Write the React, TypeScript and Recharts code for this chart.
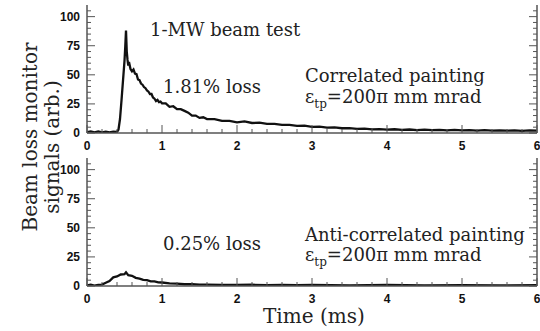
import React from 'react'
import { LineChart, Line, XAxis, YAxis } from 'recharts'

// measured beam loss monitor traces (arb. units) vs time (ms)
const timeCorrelated = [
  0, 0.05, 0.1, 0.15, 0.2, 0.25, 0.3, 0.35, 0.4, 0.42, 0.44, 0.46, 0.48, 0.5, 0.51, 0.52, 0.525, 0.53,
  0.54, 0.55, 0.56, 0.58, 0.6, 0.62, 0.64, 0.66, 0.68, 0.7, 0.72, 0.74, 0.76, 0.78, 0.8, 0.82, 0.84,
  0.86, 0.88, 0.9, 0.92, 0.94, 0.96, 0.98, 1.0, 1.05, 1.1, 1.15, 1.2, 1.25, 1.3, 1.35, 1.4, 1.45, 1.5,
  1.55, 1.6, 1.7, 1.8, 1.9, 2.0, 2.1, 2.2, 2.3, 2.4, 2.5, 2.6, 2.7, 2.8, 2.9, 3.0, 3.1, 3.2, 3.3, 3.4,
  3.5, 3.6, 3.7, 3.8, 3.9, 4.0, 4.1, 4.2, 4.3, 4.4, 4.5, 4.6, 4.7, 4.8, 4.9, 5.0, 5.1, 5.2, 5.3, 5.4,
  5.5, 5.6, 5.7, 5.8, 5.9, 6.0,
]
const signalCorrelated = [
  0.8, 1.4, 0.5, 1.3, 0.6, 1.2, 0.5, 1.1, 0.9, 3, 12, 28, 45, 62, 74, 88, 79, 70,
  63, 58, 61, 55, 53, 54.5, 51, 50.5, 46, 45.5, 42.5, 41.5, 39.5, 38.5, 36.5, 35.5, 33.5,
  33.5, 30.5, 29.5, 27.5, 28.5, 26.5, 27, 25.5, 25.5, 22.5, 23, 20.5, 20.5, 19, 17.5, 15, 15, 13,
  13.5, 12, 12, 10.5, 10.4, 9.2, 10, 8.6, 8.9, 7.9, 7.8, 7, 7, 6.1, 6.3, 5.3, 5.4, 4.7, 4.8, 4.1,
  4.2, 3.6, 3.8, 3.2, 3.4, 2.9, 3.2, 2.7, 3, 2.5, 2.9, 2.4, 2.7, 2.3, 2.6, 2.2, 2.5, 2.1, 2.4, 2.1,
  2.3, 2.0, 2.3, 1.9, 2.2, 2.0,
]

const timeAnti = [
  0, 0.05, 0.1, 0.15, 0.2, 0.25, 0.3, 0.35, 0.4, 0.45, 0.5, 0.52, 0.55, 0.6, 0.65, 0.7, 0.75, 0.8,
  0.85, 0.9, 0.95, 1.0, 1.1, 1.2, 1.3, 1.4, 1.5, 1.6, 1.8, 2.0, 2.2, 2.4, 2.6, 2.8, 3.0, 3.5, 4.0,
  4.5, 5.0, 5.5, 6.0,
]
const signalAnti = [
  0.6, 1.1, 0.4, 1.0, 1.2, 2.8, 4.2, 7.4, 8.2, 9.9, 10.2, 11.8, 9.3, 8.8, 7.0, 6.4, 5.3, 5.0,
  4.0, 4.0, 3.1, 3.0, 2.2, 2.0, 1.5, 1.5, 1.1, 1.2, 0.9, 1.0, 1.1, 0.7, 1.0, 0.7, 0.9, 0.6, 0.9,
  0.6, 0.8, 0.5, 0.7,
]

const xTicks: number[] = []
for (let i = 0; i <= 30; i++) xTicks.push(Math.round(i * 2) / 10)
const yTicks: number[] = []
for (let i = 0; i <= 21; i++) yTicks.push(i * 5)

const FRAME = '#555'
const tickFont = '"Liberation Sans", Arial, sans-serif'
const serif = '"DejaVu Serif", serif'

const isMajorX = (v: number) => Math.abs(v - Math.round(v)) < 1e-6
const isMajorY = (v: number) => v % 25 === 0

const BottomTick = (props: any) => {
  const { x, y, payload } = props
  const major = isMajorX(payload.value)
  return (
    <g>
      <line x1={x} y1={y} x2={x} y2={y - (major ? 8 : 4)} stroke={FRAME} strokeWidth={1} />
      {major && (
        <text x={x} y={y + 16.5} textAnchor="middle" fontFamily={tickFont} fontWeight="bold" fontSize={12} fill="#111">
          {payload.value}
        </text>
      )}
    </g>
  )
}

const TopTick = (props: any) => {
  const { x, y, payload } = props
  const major = isMajorX(payload.value)
  return <line x1={x} y1={y} x2={x} y2={y + (major ? 8 : 4)} stroke={FRAME} strokeWidth={1} />
}

const LeftTick = (props: any) => {
  const { x, y, payload } = props
  const major = isMajorY(payload.value)
  return (
    <g>
      <line x1={x} y1={y} x2={x + (major ? 8 : 4)} y2={y} stroke={FRAME} strokeWidth={1} />
      {major && (
        <text x={x - 7} y={y + 4.3} textAnchor="end" fontFamily={tickFont} fontWeight="bold" fontSize={12} fill="#111">
          {payload.value}
        </text>
      )}
    </g>
  )
}

const RightTick = (props: any) => {
  const { x, y, payload } = props
  const major = isMajorY(payload.value)
  return <line x1={x} y1={y} x2={x - (major ? 8 : 4)} y2={y} stroke={FRAME} strokeWidth={1} />
}

function Panel({ times, values }: { times: number[]; values: number[] }) {
  const data = times.map((t, i) => ({ t, v: values[i] }))
  return (
    <LineChart width={540} height={152} data={data} margin={{ top: 5, right: 0, left: 0, bottom: 0 }}>
      <XAxis
        dataKey="t"
        type="number"
        domain={[0, 6]}
        ticks={xTicks}
        interval={0}
        height={19}
        tickSize={0}
        tickMargin={0}
        tickLine={false}
        tick={<BottomTick />}
        axisLine={{ stroke: FRAME, strokeWidth: 1.5 }}
      />
      <XAxis
        xAxisId="top"
        orientation="top"
        dataKey="t"
        type="number"
        domain={[0, 6]}
        ticks={xTicks}
        interval={0}
        height={0}
        tickSize={0}
        tickMargin={0}
        tickLine={false}
        tick={<TopTick />}
        axisLine={{ stroke: FRAME, strokeWidth: 1.5 }}
      />
      <YAxis
        type="number"
        domain={[0, 110]}
        allowDataOverflow
        ticks={yTicks}
        interval={0}
        width={87}
        tickSize={0}
        tickMargin={0}
        tickLine={false}
        tick={<LeftTick />}
        axisLine={{ stroke: FRAME, strokeWidth: 1.5 }}
      />
      <YAxis
        yAxisId="right"
        orientation="right"
        type="number"
        domain={[0, 110]}
        allowDataOverflow
        ticks={yTicks}
        interval={0}
        width={3}
        tickSize={0}
        tickMargin={0}
        tickLine={false}
        tick={<RightTick />}
        axisLine={{ stroke: FRAME, strokeWidth: 1.5 }}
      />
      <Line type="linear" dataKey="v" stroke="#111" strokeWidth={2.3} dot={false} isAnimationActive={false} />
    </LineChart>
  )
}

function Emittance({ x, y }: { x: number; y: number }) {
  return (
    <text x={x} y={y} fontFamily={serif} fontSize={18} fill="#222">
      ε<tspan fontSize={12} dy={5}>tp</tspan>
      <tspan dy={-5}>=200π mm mrad</tspan>
    </text>
  )
}

export default function App() {
  return (
    <div style={{ position: 'absolute', left: 0, top: 0, width: 540, height: 331, background: '#fff', overflow: 'hidden' }}>
      <div style={{ position: 'absolute', left: 0, top: 0 }}>
        <Panel times={timeCorrelated} values={signalCorrelated} />
      </div>
      <div style={{ position: 'absolute', left: 0, top: 153 }}>
        <Panel times={timeAnti} values={signalAnti} />
      </div>
      <svg width={540} height={331} style={{ position: 'absolute', left: 0, top: 0, pointerEvents: 'none' }}>
        <text x={150} y={36} fontFamily={serif} fontSize={18} fill="#222">1-MW beam test</text>
        <text x={163} y={93} fontFamily={serif} fontSize={18} fill="#222">1.81% loss</text>
        <text x={305} y={82} fontFamily={serif} fontSize={18} fill="#222">Correlated painting</text>
        <Emittance x={305} y={103} />
        <text x={163} y={250} fontFamily={serif} fontSize={18} fill="#222">0.25% loss</text>
        <text x={305} y={241} fontFamily={serif} fontSize={18} fill="#222">Anti-correlated painting</text>
        <Emittance x={305} y={261} />
        <text x={263} y={323} fontFamily={serif} fontSize={20} fill="#222">Time (ms)</text>
        <text x={37} y={137} transform="rotate(-90 37 137)" textAnchor="middle" fontFamily={serif} fontSize={20} fill="#222">
          Beam loss monitor
        </text>
        <text x={59} y={147} transform="rotate(-90 59 147)" textAnchor="middle" fontFamily={serif} fontSize={20} fill="#222">
          signals (arb.)
        </text>
      </svg>
    </div>
  )
}
